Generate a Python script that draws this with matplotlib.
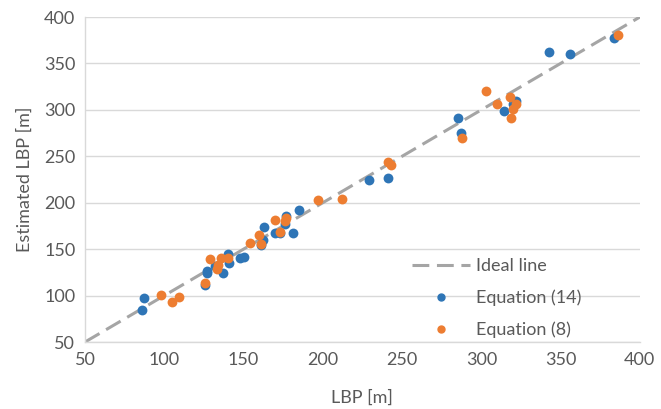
import matplotlib
matplotlib.use("Agg")
import matplotlib.pyplot as plt
from matplotlib.lines import Line2D

plt.rcParams['font.family'] = ['Lato', 'DejaVu Sans']

eq14_x = [86, 87, 126, 127, 127, 137, 132, 140, 141, 148, 150, 161, 162, 163, 170, 173,
          176, 177, 181, 185, 229, 241, 285, 287, 314, 320, 322, 343, 356, 384]
eq14_y = [85, 97, 111, 124, 126, 124, 132, 145, 135, 141, 142, 155, 160, 174, 167, 167,
          177, 186, 167, 192, 224, 227, 291, 275, 299, 306, 310, 362, 360, 377]

eq8_x = [98, 105, 109, 126, 129, 133, 134, 136, 140, 154, 160, 161, 170, 173, 176, 177,
         197, 212, 241, 243, 288, 303, 310, 318, 319, 320, 322, 386]
eq8_y = [101, 93, 98, 114, 139, 129, 133, 140, 140, 157, 165, 156, 181, 169, 180, 184,
         203, 204, 244, 241, 270, 320, 306, 314, 291, 301, 306, 381]

ideal = [50, 400]
ticks = [50, 100, 150, 200, 250, 300, 350, 400]

blue = '#2E75B6'
orange = '#ED7D31'
grey_line = '#A5A5A5'
text_c = '#595959'
dash = (0, (5.5, 2.5))

fig = plt.figure(figsize=(6.61, 4.09), dpi=100)
ax = fig.add_axes([0.1286, 0.1638, 0.8394, 0.7946])

ax.plot(ideal, ideal, linestyle=dash, color=grey_line, linewidth=2.2, zorder=2)
ax.scatter(eq14_x, eq14_y, s=50, color=blue, zorder=3, linewidths=0)
ax.scatter(eq8_x, eq8_y, s=50, color=orange, zorder=4, linewidths=0)

ax.set_xlim(50, 400)
ax.set_ylim(50, 400)
ax.set_xticks(ticks)
ax.set_yticks(ticks)
ax.grid(axis='y', color='#D9D9D9', linewidth=1)
ax.set_axisbelow(True)
for s in ['top', 'right']:
    ax.spines[s].set_visible(False)
for s in ['left', 'bottom']:
    ax.spines[s].set_color('#D9D9D9')
    ax.spines[s].set_linewidth(1)
ax.tick_params(length=0, labelsize=13, colors=text_c, pad=7)
ax.set_xlabel('LBP [m]', fontsize=13, color=text_c, labelpad=16)
ax.set_ylabel('Estimated LBP [m]', fontsize=13, color=text_c, labelpad=8)

handles = [
    Line2D([], [], linestyle=dash, color=grey_line, linewidth=2.2),
    Line2D([], [], linestyle='none', marker='o', markersize=5, color=blue),
    Line2D([], [], linestyle='none', marker='o', markersize=5, color=orange),
]
leg = ax.legend(handles, ['Ideal line', 'Equation (14)', 'Equation (8)'],
                loc='lower left', bbox_to_anchor=(0.577, -0.01), frameon=False,
                fontsize=13, handlelength=3.2, handletextpad=0.3,
                labelspacing=0.85, borderaxespad=0.0)
for t in leg.get_texts():
    t.set_color(text_c)

fig.savefig('out.png', dpi=100)
